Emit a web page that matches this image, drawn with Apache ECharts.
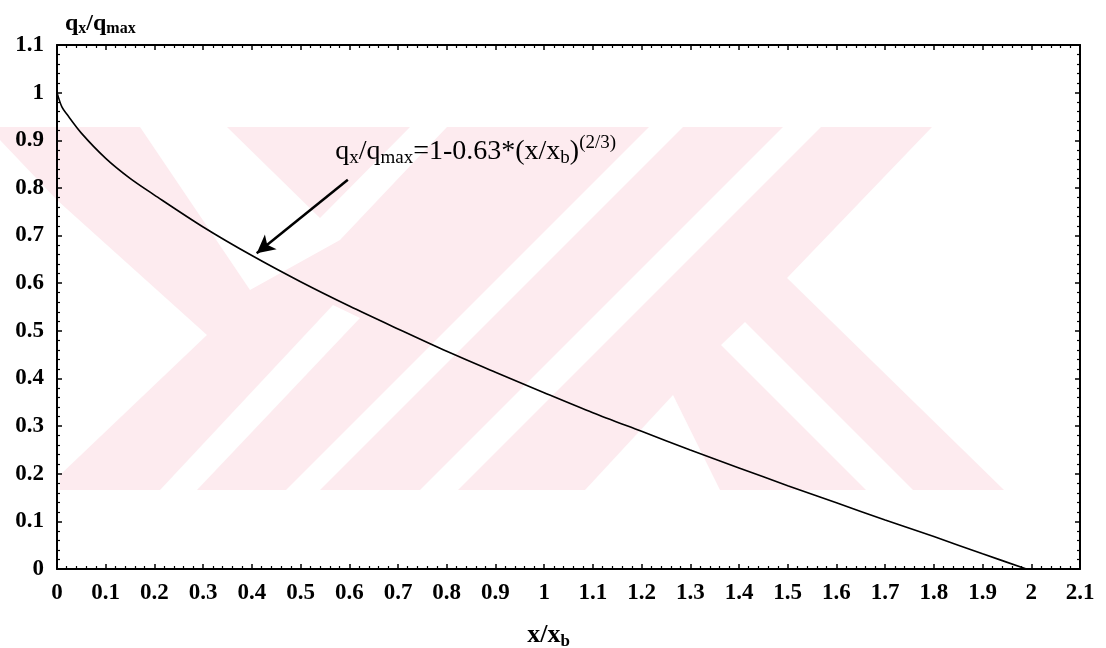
<!DOCTYPE html>
<html>
<head>
<meta charset="utf-8">
<script src="https://cdn.jsdelivr.net/npm/echarts@6/dist/echarts.min.js"></script>
<style>
  html, body { margin: 0; padding: 0; background: #fff; }
  #main { width: 1106px; height: 648px; }
</style>
</head>
<body>
<div id="main"></div>
<script>
// values
var xVals = [0, 0.01, 0.02, 0.05, 0.1, 0.15, 0.2, 0.3, 0.4, 0.5, 0.6, 0.7, 0.8, 0.9, 1.0, 1.1, 1.2, 1.3, 1.4, 1.5, 1.6, 1.7, 1.8, 1.9, 1.99];
var yVals = [1.0, 0.97, 0.955, 0.915, 0.862, 0.82, 0.785, 0.718, 0.658, 0.603, 0.552, 0.504, 0.457, 0.413, 0.37, 0.328, 0.289, 0.25, 0.212, 0.175, 0.139, 0.103, 0.068, 0.032, 0.0];
var arrowFrom = [0.597, 0.817];
var arrowTo = [0.41, 0.663];
var labelAt = [0.571, 0.877];

var font = '"Liberation Serif", "DejaVu Serif", serif';
var pink = '#fdebef';

// scanned watermark in the background (decoration only)
var wmBase = [[0,127],[932,127],[787,278],[1004,490],[60,490],[60,475],[207,335],[57,200],[0,140]];
var wmGaps = [
  [[140,127],[227,127],[320,218],[410,127],[447,127],[340,240],[250,290]],
  [[160,490],[197,490],[360,318],[333,305]],
  [[286,490],[320,490],[683,127],[649,127]],
  [[420,490],[458,490],[821,127],[783,127]],
  [[745,322],[721,345],[866,490],[913,490]],
  [[585,490],[673,395],[720,490]]
];

var curve = [];
for (var i = 0; i < xVals.length; i++) {
  curve.push([xVals[i], yVals[i]]);
}

function fmt(v) { return String(+v.toFixed(1)); }

function axisBits(showLabel) {
  return {
    axisLine: { show: true, onZero: false, lineStyle: { color: '#000', width: 2 } },
    axisTick: { show: true, inside: true, length: 5, lineStyle: { color: '#000', width: 1.5 } },
    minorTick: { show: true, splitNumber: 5, length: 3, lineStyle: { color: '#000', width: 1.2 } },
    splitLine: { show: false },
    axisLabel: {
      show: showLabel, formatter: fmt, margin: 13,
      fontFamily: font, fontWeight: 'bold', fontSize: 23, color: '#000'
    }
  };
}

var graphics = [{
  type: 'polygon', z: -10, silent: true,
  shape: { points: wmBase }, style: { fill: pink }
}];
wmGaps.forEach(function (g) {
  graphics.push({ type: 'polygon', z: -9, silent: true, shape: { points: g }, style: { fill: '#fff' } });
});

var chart = echarts.init(document.getElementById('main'));
chart.setOption({
  animation: false,
  backgroundColor: '#fff',
  graphic: graphics,
  grid: { left: 57, right: 26, top: 45, bottom: 79, outerBoundsMode: 'none' },
  xAxis: [
    Object.assign({
      type: 'value', min: 0, max: 2.1, interval: 0.1,
      name: '{t|x/x}{sub|b}', nameLocation: 'middle', nameGap: 52,
      nameTextStyle: {
        padding: [0, 40, 0, 0],
        rich: {
          t: { fontFamily: font, fontWeight: 'bold', fontSize: 26, color: '#000' },
          sub: { fontFamily: font, fontWeight: 'bold', fontSize: 17, color: '#000', padding: [12, 0, 0, 0] }
        }
      }
    }, axisBits(true)),
    Object.assign({ type: 'value', min: 0, max: 2.1, interval: 0.1, position: 'top' }, axisBits(false))
  ],
  yAxis: [
    Object.assign({
      type: 'value', min: 0, max: 1.1, interval: 0.1,
      name: '{t|q}{sub|x}{t|/q}{sub|max}', nameLocation: 'end', nameGap: 8,
      nameTextStyle: {
        align: 'left', padding: [0, 0, 0, 8],
        rich: {
          t: { fontFamily: font, fontWeight: 'bold', fontSize: 24, color: '#000' },
          sub: { fontFamily: font, fontWeight: 'bold', fontSize: 16, color: '#000', padding: [11, 0, 0, 0] }
        }
      }
    }, axisBits(true)),
    Object.assign({ type: 'value', min: 0, max: 1.1, interval: 0.1, position: 'right' }, axisBits(false))
  ],
  series: [{
    type: 'line',
    data: curve,
    smooth: 0.3,
    showSymbol: false,
    lineStyle: { color: '#000', width: 1.6 },
    markLine: {
      silent: true,
      symbol: ['none', 'arrow'],
      symbolSize: [14, 18],
      lineStyle: { color: '#000', width: 2.5, type: 'solid' },
      label: { show: false },
      data: [[{ coord: arrowFrom }, { coord: arrowTo }]]
    },
    markPoint: {
      silent: true,
      symbol: 'circle', symbolSize: 0,
      label: {
        show: true, position: 'right', distance: 0,
        formatter: '{t|q}{sub|x}{t|/q}{sub|max}{t|=1-0.63*(x/x}{sub|b}{t|)}{sup|(2/3)}',
        rich: {
          t: { fontFamily: font, fontSize: 28, color: '#000' },
          sub: { fontFamily: font, fontSize: 19, color: '#000', padding: [14, 0, 0, 0] },
          sup: { fontFamily: font, fontSize: 19, color: '#000', padding: [0, 0, 16, 0] }
        }
      },
      data: [{ coord: labelAt }]
    }
  }, {
    // empty series so the mirrored top/right axes are laid out
    type: 'line', xAxisIndex: 1, yAxisIndex: 1, data: [], silent: true
  }]
});
</script>
</body>
</html>
